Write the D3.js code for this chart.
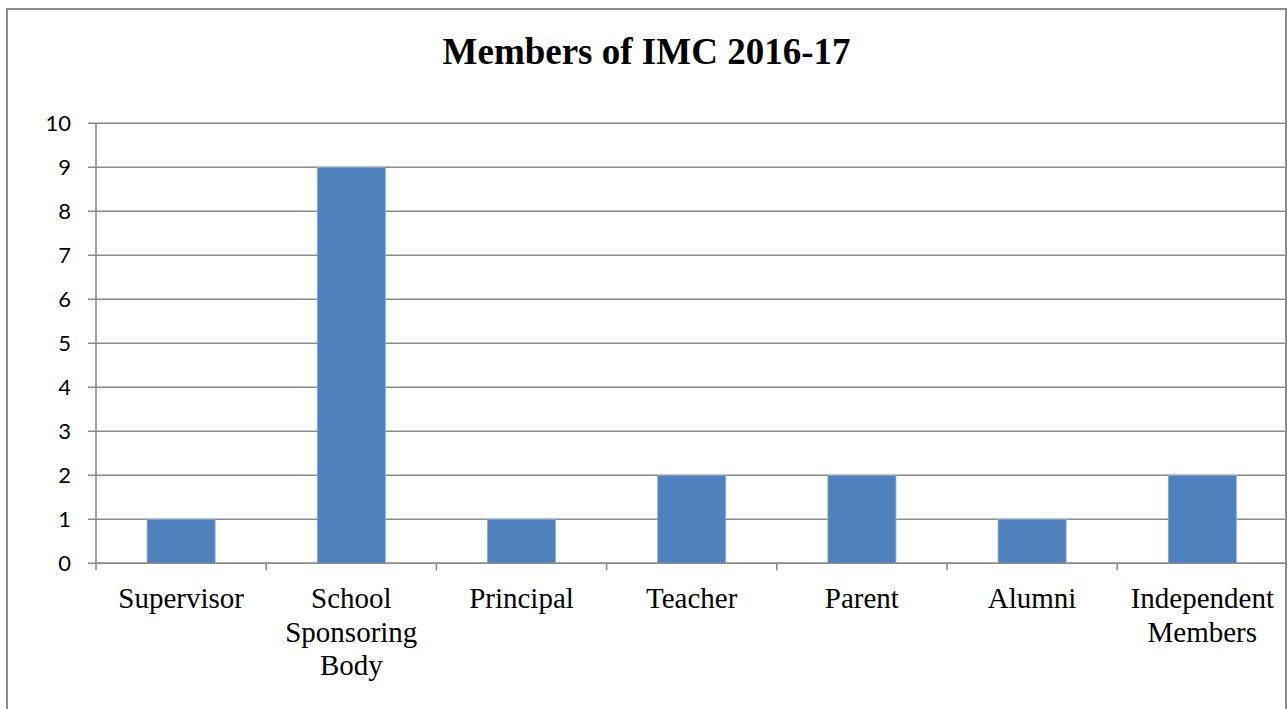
<!DOCTYPE html>
<html>
<head>
<meta charset="utf-8">
<script src="https://cdn.jsdelivr.net/npm/d3@7"></script>
<style>
  html, body { margin: 0; padding: 0; background: #ffffff; }
  svg { display: block; }
</style>
</head>
<body>
<svg id="chart" width="1287" height="709"></svg>
<script>
// Members of the Incorporated Management Committee, by category
const categories = ["Supervisor", "School Sponsoring Body", "Principal", "Teacher", "Parent", "Alumni", "Independent Members"];
const members = [1, 9, 1, 2, 2, 1, 2];
const yTicks = [0, 1, 2, 3, 4, 5, 6, 7, 8, 9, 10];
const title = "Members of IMC 2016-17";

const svg = d3.select("#chart");
const W = 1287, H = 709;
const plot = { left: 96, right: 1287.4, top: 123.3, bottom: 563.3 };
const gridColor = "#8a8a8a";

// chart frame (left, top and right edges)
svg.append("path")
  .attr("d", `M7,${H + 2} L7,9 L1286,9 L1286,${H + 2}`)
  .attr("fill", "none")
  .attr("stroke", "#8c8c8c")
  .attr("stroke-width", 2);

// title
svg.append("text")
  .attr("x", 646.5)
  .attr("y", 64)
  .attr("text-anchor", "middle")
  .attr("font-family", "'Liberation Serif', 'Times New Roman', serif")
  .attr("font-weight", "bold")
  .attr("font-size", 37)
  .attr("fill", "#000")
  .text(title);

const x = d3.scaleBand()
  .domain(categories)
  .range([plot.left, plot.right])
  .padding(0);

const y = d3.scaleLinear()
  .domain([0, 10])
  .range([plot.bottom, plot.top]);

// horizontal gridlines
svg.append("g")
  .selectAll("line")
  .data(yTicks)
  .join("line")
  .attr("x1", plot.left - 8)
  .attr("x2", 1286)
  .attr("y1", d => y(d))
  .attr("y2", d => y(d))
  .attr("stroke", gridColor)
  .attr("stroke-width", 1.6);

// y axis labels
svg.append("g")
  .selectAll("text")
  .data(yTicks)
  .join("text")
  .attr("x", 71)
  .attr("y", d => y(d))
  .attr("dy", "0.36em")
  .attr("text-anchor", "end")
  .attr("font-family", "Lato, 'Open Sans', sans-serif")
  .attr("font-size", 22)
  .attr("fill", "#000")
  .text(d => d);

// y axis line
svg.append("line")
  .attr("x1", plot.left).attr("x2", plot.left)
  .attr("y1", plot.top).attr("y2", plot.bottom + 7)
  .attr("stroke", gridColor)
  .attr("stroke-width", 1.6);

// category tick marks at band boundaries
const boundaries = categories.slice(1).map(c => x(c));
svg.append("g")
  .selectAll("line")
  .data(boundaries)
  .join("line")
  .attr("x1", d => d).attr("x2", d => d)
  .attr("y1", plot.bottom).attr("y2", plot.bottom + 7)
  .attr("stroke", gridColor)
  .attr("stroke-width", 1.6);

// bars
const barFrac = 0.4;
svg.append("g")
  .selectAll("rect")
  .data(categories.map((c, i) => ({ c, v: members[i] })))
  .join("rect")
  .attr("x", d => x(d.c) + x.bandwidth() * (1 - barFrac) / 2)
  .attr("width", x.bandwidth() * barFrac)
  .attr("y", d => y(d.v))
  .attr("height", d => y(0) - y(d.v))
  .attr("fill", "#4f81bd")
  .attr("stroke", "#8fb0da")
  .attr("stroke-width", 0.8);

// x axis line
svg.append("line")
  .attr("x1", plot.left).attr("x2", 1286)
  .attr("y1", plot.bottom).attr("y2", plot.bottom)
  .attr("stroke", gridColor)
  .attr("stroke-width", 1.6);

// category labels, one word per line
const labels = svg.append("g")
  .selectAll("text")
  .data(categories)
  .join("text")
  .attr("text-anchor", "middle")
  .attr("font-family", "'Liberation Serif', 'Times New Roman', serif")
  .attr("font-size", 29)
  .attr("fill", "#000");

labels.each(function(c) {
  const cx = x(c) + x.bandwidth() / 2;
  d3.select(this).selectAll("tspan")
    .data(c.split(" "))
    .join("tspan")
    .attr("x", cx)
    .attr("y", (w, i) => 608 + i * 33.5)
    .text(w => w);
});
</script>
</body>
</html>
